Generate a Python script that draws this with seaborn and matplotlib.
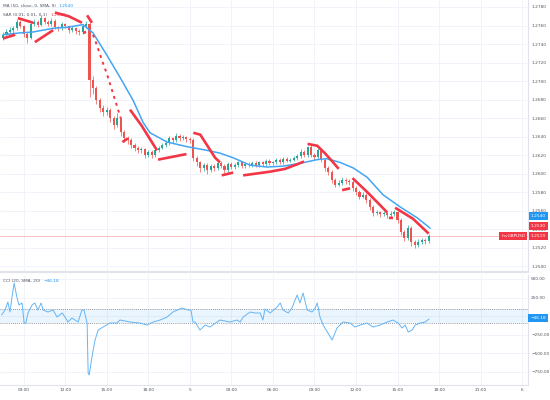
import numpy as np
import matplotlib
matplotlib.use('Agg')
import matplotlib.pyplot as plt
import seaborn as sns

# %% Data (15 min bars)

closes = [1.2750, 1.2753, 1.2755, 1.2757, 1.2764, 1.2759, 1.2751, 1.2746, 1.2762, 1.2764,
          1.2761, 1.2768, 1.2764, 1.2762, 1.2765, 1.2758, 1.2757, 1.2762, 1.2759, 1.2755,
          1.2757, 1.2754, 1.2753, 1.2759, 1.2762, 1.2701, 1.2692, 1.2679, 1.2671, 1.2666,
          1.2669, 1.2660, 1.2652, 1.2660, 1.2645, 1.2638, 1.2636, 1.2631, 1.2628, 1.2625,
          1.2626, 1.2620, 1.2623, 1.2620, 1.2625, 1.2628, 1.2631, 1.2633, 1.2638, 1.2636,
          1.2641, 1.2638, 1.2639, 1.2637, 1.2636, 1.2617, 1.2612, 1.2606, 1.2609, 1.2604,
          1.2608, 1.2606, 1.2611, 1.2608, 1.2604, 1.2610, 1.2607, 1.2609, 1.2612, 1.2608,
          1.2610, 1.2609, 1.2611, 1.2609, 1.2612, 1.2610, 1.2614, 1.2611, 1.2612, 1.2615,
          1.2612, 1.2616, 1.2614, 1.2615, 1.2617, 1.2619, 1.2623, 1.2620, 1.2629, 1.2620,
          1.2618, 1.2625, 1.2615, 1.2606, 1.2602, 1.2593, 1.2588, 1.2590, 1.2593, 1.2592,
          1.2591, 1.2584, 1.2580, 1.2575, 1.2577, 1.2571, 1.2564, 1.2557, 1.2558, 1.2556,
          1.2557, 1.2555, 1.2556, 1.2558, 1.2550, 1.2537, 1.2530, 1.2541, 1.2526, 1.2523,
          1.2526, 1.2528, 1.2527, 1.2532]
first_open = 1.2747
highs = [1.2753, 1.2756, 1.2758, 1.2760, 1.2767, 1.2766, 1.2761, 1.2753, 1.2764, 1.2767,
         1.2766, 1.2771, 1.2769, 1.2766, 1.2768, 1.2767, 1.2760, 1.2764, 1.2763, 1.2761,
         1.2759, 1.2758, 1.2756, 1.2761, 1.2765, 1.2764, 1.2705, 1.2695, 1.2682, 1.2674,
         1.2672, 1.2671, 1.2662, 1.2665, 1.2661, 1.2647, 1.2641, 1.2638, 1.2633, 1.2630,
         1.2629, 1.2628, 1.2625, 1.2625, 1.2627, 1.2630, 1.2633, 1.2636, 1.2641, 1.2640,
         1.2644, 1.2643, 1.2642, 1.2641, 1.2640, 1.2638, 1.2619, 1.2614, 1.2611, 1.2611,
         1.2610, 1.2610, 1.2613, 1.2613, 1.2610, 1.2612, 1.2612, 1.2611, 1.2614, 1.2614,
         1.2612, 1.2612, 1.2613, 1.2613, 1.2614, 1.2614, 1.2616, 1.2616, 1.2614, 1.2617,
         1.2617, 1.2618, 1.2618, 1.2617, 1.2619, 1.2621, 1.2626, 1.2625, 1.2630, 1.2631,
         1.2622, 1.2628, 1.2627, 1.2617, 1.2608, 1.2604, 1.2595, 1.2593, 1.2596, 1.2595,
         1.2594, 1.2593, 1.2586, 1.2582, 1.2580, 1.2579, 1.2573, 1.2566, 1.2561, 1.2560,
         1.2560, 1.2559, 1.2559, 1.2561, 1.2560, 1.2552, 1.2539, 1.2544, 1.2543, 1.2528,
         1.2529, 1.2530, 1.2530, 1.2535]
lows = [1.2744, 1.2748, 1.2751, 1.2752, 1.2755, 1.2757, 1.2748, 1.2741, 1.2745, 1.2760,
        1.2758, 1.2759, 1.2762, 1.2759, 1.2760, 1.2756, 1.2754, 1.2755, 1.2757, 1.2752,
        1.2753, 1.2751, 1.2750, 1.2751, 1.2757, 1.2683, 1.2686, 1.2675, 1.2667, 1.2662,
        1.2663, 1.2656, 1.2648, 1.2650, 1.2641, 1.2634, 1.2632, 1.2628, 1.2624, 1.2622,
        1.2622, 1.2617, 1.2618, 1.2617, 1.2618, 1.2623, 1.2626, 1.2629, 1.2631, 1.2633,
        1.2634, 1.2635, 1.2636, 1.2634, 1.2633, 1.2613, 1.2608, 1.2602, 1.2603, 1.2600,
        1.2602, 1.2603, 1.2604, 1.2606, 1.2601, 1.2602, 1.2605, 1.2605, 1.2607, 1.2606,
        1.2606, 1.2607, 1.2607, 1.2607, 1.2607, 1.2608, 1.2608, 1.2609, 1.2609, 1.2610,
        1.2610, 1.2610, 1.2612, 1.2612, 1.2613, 1.2615, 1.2617, 1.2618, 1.2618, 1.2618,
        1.2615, 1.2616, 1.2612, 1.2603, 1.2598, 1.2590, 1.2585, 1.2586, 1.2588, 1.2589,
        1.2588, 1.2581, 1.2577, 1.2572, 1.2573, 1.2568, 1.2561, 1.2554, 1.2555, 1.2553,
        1.2554, 1.2552, 1.2553, 1.2554, 1.2547, 1.2534, 1.2527, 1.2528, 1.2522, 1.2520,
        1.2521, 1.2524, 1.2524, 1.2525]

# moving average (blue), sampled along the curve
ma_i = [0, 4.9, 8.7, 14.5, 18.5, 23.1, 26, 30, 33.8, 37.6, 40.5, 42.5, 47.4, 53.2, 59,
        62.7, 66.5, 71.4, 76.3, 81, 85.8, 90.8, 93.6, 97.4, 101.2, 105.2, 109.8, 114.7,
        119.7, 123.4]
ma_v = [1.2750, 1.2752, 1.2753, 1.2757, 1.2758, 1.2761, 1.2752, 1.2728, 1.2704, 1.2679,
        1.2655, 1.2644, 1.2634, 1.2629, 1.2625, 1.2622, 1.2617, 1.2609, 1.2607, 1.2608,
        1.2611, 1.2615, 1.2616, 1.2612, 1.2606, 1.2596, 1.2577, 1.2564, 1.2552, 1.2541]

# parabolic SAR runs, NaN separates runs
sar_i = [0, 3.5, np.nan, 4.3, 8.7, np.nan, 9.2, 14.5, np.nan, 15, 19, 22.8, np.nan,
         23.1, 24, np.nan, 24.3, 25.7, np.nan, 34.5, 36.1, np.nan, 36.7, 40, 44.5, np.nan,
         44.8, 53, np.nan, 55, 57, 61.3, 62.7, np.nan, 63.2, 66.5, np.nan,
         69.4, 77.2, 81.5, 85, 87, np.nan, 88, 90.8, 93, 95.4, 97, np.nan, 98, 100.3, np.nan,
         101, 105.5, 111, np.nan, 111.5, 112.7, np.nan, 113.3, 118.5, 123]
sar_v = [1.2746, 1.2750, np.nan, 1.2768, 1.2763, np.nan, 1.2742, 1.2755, np.nan,
         1.2774, 1.2770, 1.2763, np.nan, 1.2752, 1.2753, np.nan, 1.2771, 1.2763, np.nan,
         1.2634, 1.2638, np.nan, 1.2669, 1.2652, 1.2625, np.nan, 1.2615, 1.2621, np.nan,
         1.2644, 1.2642, 1.2617, 1.2612, np.nan, 1.2598, 1.2601, np.nan,
         1.2598, 1.2602, 1.2605, 1.2610, 1.2613, np.nan, 1.2632, 1.2630, 1.2622, 1.2612,
         1.2605, np.nan, 1.2582, 1.2584, np.nan, 1.2595, 1.2579, 1.2558, np.nan,
         1.2552, 1.2552, np.nan, 1.2563, 1.2551, 1.2535]
# fast falling SAR run after the big drop (dots spread apart)
sar_fast_i = [26, 27, 28, 29, 30, 31, 32, 33, 34]
sar_fast_v = [1.2750, 1.2740, 1.2729, 1.2718, 1.2708, 1.2696, 1.2684, 1.2672, 1.2660]

# CCI
cci_i = [-0.4, 0.6, 1.4, 2.0, 2.6, 3.2, 4.0, 4.6, 5.5, 6.1, 6.6, 7.2, 8.4, 9.2, 10.1,
         11.0, 11.6, 13.0, 14.5, 15.6, 17.1, 17.9, 18.8, 19.9, 20.8, 21.7, 22.8, 23.4,
         24.3, 24.6, 24.9, 25.7, 26.6, 27.5, 28.9, 30.9, 32.9, 33.8, 36.7, 39.6, 41.6,
         43.4, 45.4, 47.4, 49.1, 51.7, 53.5, 54.3, 54.9, 55.5, 56.9, 58.4, 59.8, 62.7,
         65.6, 67.6, 68.5, 69.4, 71.4, 72.8, 74.3, 75.1, 75.7, 77.2, 79.2, 80.1, 80.9,
         82.4, 83.5, 84.4, 85.0, 85.8, 86.7, 87.9, 89.3, 90.2, 90.8, 91.6, 92.5, 93.9,
         95.1, 96.5, 98.3, 100.3, 101.7, 103.2, 105.2, 106.9, 109.0, 111.0, 112.7, 114.2,
         115.3, 116.2, 117.1, 118.2, 119.1, 120.5, 122.0, 123.1]
cci_v = [14, 81, 189, 54, 257, 446, 257, 149, 176, -95, -95, 41, 149, 176, 81,
         176, 81, 54, 81, -14, 41, -14, -81, -27, -54, -81, 81, 81,
         -95, -770, -797, -554, -324, -189, -149, -95, -95, -54, -81, -95, -122,
         -81, -54, -14, 54, 108, 81, 81, -81, -81, -189, -122, -149, -54,
         -81, -54, -81, -14, 54, 41, 41, -54, 95, 41, 122, 176, 81,
         41, 108, 216, 284, 176, 311, 81, 54, 108, 176, -14, -122, -230,
         -324, -162, -81, -95, -149, -122, -95, -149, -122, -81, -54, -95,
         -162, -122, -216, -189, -122, -95, -81, -41]

tick_pos = [6, 18, 30, 42, 54, 66, 78, 90, 102, 114, 126, 138, 150]
tick_lbl = ['09:00', '12:00', '15:00', '18:00', '5', '03:00', '06:00', '09:00',
            '12:00', '15:00', '18:00', '21:00', '6']
price_ticks = np.arange(1.2500, 1.27801, 0.002)
cci_ticks = [500, 250, 0, -250, -500, -750]

# %% Plot

sns.set_theme(style='white')
plt.rcParams['font.family'] = ['DejaVu Sans']

UP, DOWN = '#26a69a', '#ef5350'
SARC, MAC, CCIC = '#f23645', '#42a5f5', '#64b5f6'
GRID, AXC, TXT = '#f0f3fa', '#e0e3eb', '#50535e'
FS = 3.1

fig = plt.figure(figsize=(5.5, 4), dpi=100)
ax = fig.add_axes([0, 1 - 272 / 400, 528 / 550, 272 / 400])
axc = fig.add_axes([0, 1 - 385 / 400, 528 / 550, (385 - 275) / 400], sharex=ax)

c = np.array(closes)
o = np.r_[first_open, c[:-1]]
idx = np.arange(len(c))
up = c >= o
cols = np.where(up, UP, DOWN)

for a in (ax, axc):
    for t in tick_pos:
        a.axvline(t, color=GRID, lw=0.7, zorder=0)

for t in price_ticks:
    ax.axhline(t, color=GRID, lw=0.7, zorder=0)
for t in cci_ticks:
    axc.axhline(t, color=GRID, lw=0.7, zorder=0)

# candles
ax.vlines(idx, lows, highs, colors=cols, lw=0.5, zorder=2)
body = np.maximum(np.abs(c - o), 0.00006)
ax.bar(idx, body, bottom=np.minimum(o, c), width=0.6, color=cols, lw=0, zorder=3)

# MA and SAR
sns.lineplot(x=ma_i, y=ma_v, ax=ax, color=MAC, lw=1.1, estimator=None, zorder=4)
ax.plot(sar_i, sar_v, color=SARC, lw=1.9, solid_capstyle='butt', zorder=5)
ax.plot(sar_fast_i, sar_fast_v, color=SARC, lw=1.4, ls=(0, (1.5, 2.2)), zorder=5)

# last price line
ax.axhline(c[-1], color=DOWN, lw=0.5, alpha=0.5, zorder=1)

ax.set_xlim(-0.87, 151.7)
ax.set_ylim(1.2500 - 6 / 9250, 1.2500 + 266 / 9250)
ax.set_yticks(price_ticks)
ax.set_yticklabels([f'{t:.4f}' for t in price_ticks])

# CCI pane
axc.axhspan(-100, 100, color='#2196f3', alpha=0.09, lw=0, zorder=1)
axc.axhline(100, color='#787b86', lw=0.6, ls=(0, (1, 1.5)), zorder=2)
axc.axhline(-100, color='#787b86', lw=0.6, ls=(0, (1, 1.5)), zorder=2)
sns.lineplot(x=cci_i, y=cci_v, ax=axc, color=CCIC, lw=0.7, estimator=None, sort=False,
             zorder=3)
axc.set_ylim(-932, 554)
axc.set_yticks(cci_ticks)
# the 0.00 label sits under the last value box, so leave it blank
axc.set_yticklabels(['' if t == 0 else f'{t:.2f}'.replace('-', '\u2212')
                     for t in cci_ticks])
axc.set_xticks(tick_pos)
axc.set_xticklabels(tick_lbl)

for a in (ax, axc):
    a.set_xlabel('')
    a.set_ylabel('')
    a.yaxis.tick_right()
    a.tick_params(axis='both', length=0, labelsize=FS, labelcolor=TXT, pad=2.2)
    for s in ('top', 'left'):
        a.spines[s].set_visible(False)
    a.spines['right'].set_color(AXC)
    a.spines['right'].set_linewidth(0.8)
    a.spines['bottom'].set_color(AXC)
ax.spines['bottom'].set_linewidth(1.6)
axc.spines['bottom'].set_linewidth(0.8)
ax.tick_params(axis='x', labelbottom=False)
axc.tick_params(axis='x', pad=2.5)

# legends: name in gray, value right after it
fig.canvas.draw()
rend = fig.canvas.get_renderer()


def legend(y_px, name, value, vcolor):
    t = fig.text(0.006, 1 - y_px / 400, name, fontsize=FS, color=TXT, va='center')
    x1 = t.get_window_extent(rend).x1 / fig.bbox.width
    fig.text(x1 + 0.005, 1 - y_px / 400, value, fontsize=FS, color=vcolor, va='center')


legend(6, 'MA (50, close, 0, SMA, 9)', '1.2540', '#2196f3')
legend(15, 'SAR (0.01, 0.01, 0.1)', '1.2530', SARC)
legend(281, 'CCI (20, SMA, 20)', '\u221246.18', '#2196f3')


# price scale boxes
def box(y_px, text, fc, x=0.979, ha='center'):
    fig.text(x, 1 - y_px / 400, text, fontsize=FS, color='white', ha=ha, va='center',
             bbox=dict(boxstyle='square,pad=0.5', fc=fc, ec='none'), zorder=10)


box(216, '1.2540', '#2196f3')
box(226, '1.2530', SARC)
box(236, '1.2519', SARC)
box(236, 'InvGBPUSD', SARC, x=0.955, ha='right')
box(318, '\u221246.18', '#2196f3')

fig.savefig('out.png', dpi=100)
